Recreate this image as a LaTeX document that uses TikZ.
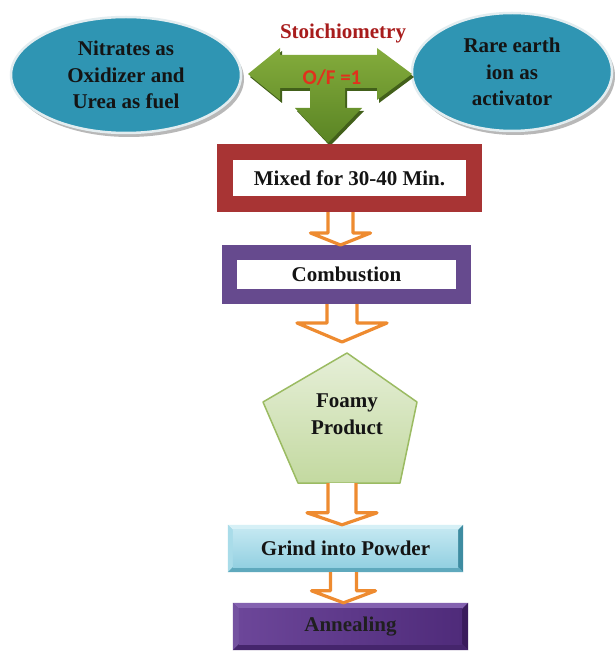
\documentclass[tikz,border=0pt]{standalone}
\usepackage{fontspec}
\setmainfont{Liberation Serif}
\newfontfamily\calib{Carlito}
\usetikzlibrary{shapes.geometric,shadows,calc}
\definecolor{ellblue}{HTML}{2F95B3}
\definecolor{ellrim}{HTML}{E3EDF0}
\definecolor{mixred}{HTML}{A83434}
\definecolor{combpurple}{HTML}{664A8E}
\definecolor{arrorange}{HTML}{EE8B30}
\definecolor{stoired}{HTML}{A81C1C}
\definecolor{ofred}{HTML}{E2301C}
\definecolor{greentop}{HTML}{84AC3C}
\definecolor{greenbot}{HTML}{5A8424}
\definecolor{greenshd}{HTML}{42601A}
\definecolor{pentop}{HTML}{E6EFD8}
\definecolor{penbot}{HTML}{C3D9A0}
\definecolor{penedge}{HTML}{9BBB62}
\definecolor{grindrim}{HTML}{6DB3C6}
\definecolor{grindtop}{HTML}{C2E7F1}
\definecolor{grindbot}{HTML}{93D0E1}
\definecolor{grindtb}{HTML}{D6F0F6}
\definecolor{grindlb}{HTML}{A9DCE9}
\definecolor{grindrb}{HTML}{3E8CA1}
\definecolor{grindbb}{HTML}{5FA9BD}
\definecolor{annrim}{HTML}{4A2A70}
\definecolor{annleft}{HTML}{6C4699}
\definecolor{annright}{HTML}{4F2B7A}
\definecolor{anntb}{HTML}{8462B0}
\definecolor{annlb}{HTML}{7452A0}
\definecolor{annrb}{HTML}{3A1C5C}
\definecolor{annbb}{HTML}{45256C}
\newcommand{\bevelbox}[7]{%
  \fill[#3] let \p1=(#1.north west), \p2=(#1.south east) in
    (\x1,\y1) -- (\x2,\y1) -- (\x2-#2pt,\y1-#2pt) -- (\x1+#2pt,\y1-#2pt) -- cycle;
  \fill[#4] let \p1=(#1.north west), \p2=(#1.south east) in
    (\x1,\y1) -- (\x1+#2pt,\y1-#2pt) -- (\x1+#2pt,\y2+#2pt) -- (\x1,\y2) -- cycle;
  \fill[#5] let \p1=(#1.north west), \p2=(#1.south east) in
    (\x2,\y1) -- (\x2,\y2) -- (\x2-#2pt,\y2+#2pt) -- (\x2-#2pt,\y1-#2pt) -- cycle;
  \fill[#6] let \p1=(#1.north west), \p2=(#1.south east) in
    (\x1,\y2) -- (\x2,\y2) -- (\x2-#2pt,\y2+#2pt) -- (\x1+#2pt,\y2+#2pt) -- cycle;
  \shade[#7] let \p1=(#1.north west), \p2=(#1.south east) in
    (\x1+#2pt,\y1-#2pt) rectangle (\x2-#2pt,\y2+#2pt);}
\newcommand{\blockarrow}[5]{%
  \draw[blockarr] let \p1=(#1), \p2=(#2) in
    (\x1-#3pt,\y1) -- (\x1-#3pt,\y2+#5pt) -- (\x1-#4pt,\y2+#5pt) -- (\x1,\y2)
    -- (\x1+#4pt,\y2+#5pt) -- (\x1+#3pt,\y2+#5pt) -- (\x1+#3pt,\y1);}
\newcommand{\tarrowpath}{(248,74) -- (280,48) -- (280,55) -- (377,55) -- (377,48) -- (412,74) -- (377,100) -- (377,88) -- (345,88) -- (345,108) -- (362,108) -- (328,143) -- (295,108) -- (310,108) -- (310,88) -- (280,88) -- (280,100) -- cycle}
\begin{document}
\begin{tikzpicture}[x=1pt,y=-1pt,
  txt/.style={font=\fontsize{21}{26.5}\selectfont\bfseries, align=center, text=black!92},
  ell/.style={ellipse, fill=ellblue, draw=ellrim, line width=2.5pt, inner sep=0pt,
    drop shadow={shadow xshift=3pt,shadow yshift=-4pt,fill=black!28,opacity=1}, txt},
  framebox/.style={rectangle, fill=white, inner sep=0pt, txt},
  plainbox/.style={rectangle, inner sep=0pt, minimum width=235pt, minimum height=47pt},
  blockarr/.style={draw=arrorange, fill=white, line width=3.2pt, line join=round}]
\path[use as bounding box, fill=white] (0,0) rectangle (614,652);

% ellipses
\node[ell, minimum width=230pt, minimum height=116pt] (nitr) at (126,75) {Nitrates as\\Oxidizer and\\Urea as fuel};
\node[ell, minimum width=200pt, minimum height=118pt] (rare) at (512,72) {Rare earth\\ion as\\activator};

% green T arrow
\fill[greenshd, shift={(2,3)}] \tarrowpath;
\shade[top color=greentop, bottom color=greenbot] \tarrowpath;
\node[font=\fontsize{21}{24}\selectfont\bfseries, text=stoired] (stoi) at (343,33) {Stoichiometry};
\node[font=\calib\fontsize{21}{24}\selectfont\bfseries, text=ofred] (of) at (332,78) {O/F =1};

% framed boxes
\node[framebox, draw=mixred, line width=16pt, minimum width=249pt, minimum height=52pt] (mixed) at (349.5,178) {Mixed for 30-40 Min.};
\node[framebox, draw=combpurple, line width=15pt, minimum width=234pt, minimum height=44pt] (comb) at (346.5,274.5) {Combustion};

% pentagon
\shadedraw[top color=pentop, bottom color=penbot, draw=penedge, line width=1.5pt, line join=round]
  (347,353) -- (417,402) -- (400,483) -- (298,483) -- (263,402) -- cycle;
\coordinate (penttop) at (347,353);
\coordinate (pentbot) at (348,483);
\node[txt] (foamy) at (347,414) {Foamy\\Product};

% bevel boxes
\node[plainbox, fill=grindrim] (grind) at (345.5,548.5) {};
\bevelbox{grind}{5}{grindtb}{grindlb}{grindrb}{grindbb}{top color=grindtop, bottom color=grindbot}
\node[txt] at (grind) {Grind into Powder};

\node[plainbox, fill=annrim] (anneal) at (350.5,626.5) {};
\bevelbox{anneal}{6}{anntb}{annlb}{annrb}{annbb}{left color=annleft, right color=annright}
\node[txt, text=black!88] at (anneal) {Annealing};

% block arrows
\blockarrow{[xshift=-9pt]mixed.south}{comb.north}{12.5}{30}{12}
\blockarrow{[xshift=-4.5pt]comb.south}{[yshift=11pt]penttop}{15}{45}{19}
\blockarrow{[xshift=-6pt]pentbot}{grind.north}{14}{35}{12}
\blockarrow{[xshift=-2pt]grind.south}{anneal.north}{13}{32}{12}
\end{tikzpicture}
\end{document}
